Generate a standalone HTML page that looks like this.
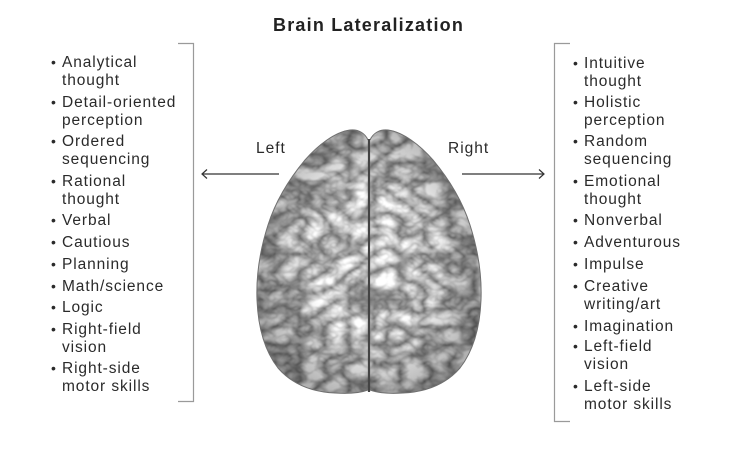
<!DOCTYPE html>
<html>
<head>
<meta charset="utf-8">
<style>
  html,body{margin:0;padding:0;background:#fff;}
  body{width:752px;height:450px;position:relative;overflow:hidden;font-family:"Liberation Sans",sans-serif;color:#262626;}
  .title{position:absolute;left:273px;top:13px;font-size:18px;font-weight:bold;letter-spacing:1.2px;color:#222;white-space:nowrap;line-height:24px;}
  .it{position:absolute;font-size:15.5px;letter-spacing:0.9px;line-height:17.6px;white-space:nowrap;color:#2a2a2a;}
  .it::before{content:"•";position:absolute;left:-11px;top:0;letter-spacing:0;font-size:14px;}
  .lab{position:absolute;font-size:15.5px;letter-spacing:1px;line-height:18px;white-space:nowrap;color:#2a2a2a;}
  svg{position:absolute;left:0;top:0;}
</style>
</head>
<body>
<svg width="752" height="450" viewBox="0 0 752 450">
  <defs>
    <filter id="tex" x="240" y="115" width="260" height="300" filterUnits="userSpaceOnUse" color-interpolation-filters="sRGB">
      <feTurbulence type="turbulence" baseFrequency="0.04 0.055" numOctaves="3" seed="7" result="t"/>
      <feColorMatrix in="t" type="matrix" values="1 0 0 0 0  1 0 0 0 0  1 0 0 0 0  0 0 0 0 1" result="g"/>
      <feComponentTransfer in="g" result="c">
        <feFuncR type="linear" slope="1.0" intercept="0.42"/>
        <feFuncG type="linear" slope="1.0" intercept="0.42"/>
        <feFuncB type="linear" slope="1.0" intercept="0.42"/>
      </feComponentTransfer>
      <feGaussianBlur in="c" stdDeviation="0.5"/>
    </filter>
    <clipPath id="brain">
      <path d="M368,140 C365,133 358,129 350,130 C335,132 318,145 305,160 C290,178 276,200 268,225 C260,250 256,275 257,300 C258,325 264,350 278,368 C292,384 312,392 335,393 C350,394 360,393 368,390 Z"/>
      <path d="M370,140 C373,133 380,129 388,130 C403,132 420,145 433,160 C448,178 462,200 470,225 C478,250 482,275 481,300 C480,325 474,350 460,368 C446,384 426,392 403,393 C388,394 378,393 370,390 Z"/>
    </clipPath>
    <radialGradient id="shade" cx="369" cy="262" r="140" gradientUnits="userSpaceOnUse" gradientTransform="translate(369 262) scale(0.85 1) translate(-369 -262)">
      <stop offset="0.5" stop-color="#000" stop-opacity="0"/>
      <stop offset="1" stop-color="#000" stop-opacity="0.3"/>
    </radialGradient>
  </defs>

  <!-- brackets -->
  <path d="M178,43.5 H193.5 V401.5 H178" fill="none" stroke="#9a9a9a" stroke-width="1.2"/>
  <path d="M570,43.5 H554.5 V421.5 H570" fill="none" stroke="#9a9a9a" stroke-width="1.2"/>

  <!-- arrows -->
  <g stroke="#333" stroke-width="1.2" fill="none">
    <line x1="202" y1="174" x2="279" y2="174"/>
    <path d="M207,169.5 L202,174 L207,178.5"/>
    <line x1="462" y1="174" x2="544" y2="174"/>
    <path d="M539,169.5 L544,174 L539,178.5"/>
  </g>

  <!-- brain -->
  <g clip-path="url(#brain)">
    <rect x="250" y="125" width="235" height="275" fill="#9c9c9c"/>
    <rect x="250" y="125" width="235" height="275" filter="url(#tex)"/>
    <rect x="250" y="125" width="235" height="275" fill="url(#shade)"/>
  </g>
  <g fill="none" stroke="#707070" stroke-width="1">
    <path d="M368,140 C365,133 358,129 350,130 C335,132 318,145 305,160 C290,178 276,200 268,225 C260,250 256,275 257,300 C258,325 264,350 278,368 C292,384 312,392 335,393 C350,394 360,393 368,390"/>
    <path d="M370,140 C373,133 380,129 388,130 C403,132 420,145 433,160 C448,178 462,200 470,225 C478,250 482,275 481,300 C480,325 474,350 460,368 C446,384 426,392 403,393 C388,394 378,393 370,390"/>
  </g>
  <line x1="369" y1="139" x2="369" y2="392" stroke="#444" stroke-width="2.2"/>
</svg>

<div class="title">Brain Lateralization</div>

<div class="lab" style="left:256px;top:140px;">Left</div>
<div class="lab" style="left:448px;top:140px;">Right</div>

<!-- left list -->
<div class="it" style="left:62px;top:54px;">Analytical<br>thought</div>
<div class="it" style="left:62px;top:94px;">Detail-oriented<br>perception</div>
<div class="it" style="left:62px;top:133px;">Ordered<br>sequencing</div>
<div class="it" style="left:62px;top:173px;">Rational<br>thought</div>
<div class="it" style="left:62px;top:212px;">Verbal</div>
<div class="it" style="left:62px;top:234px;">Cautious</div>
<div class="it" style="left:62px;top:256px;">Planning</div>
<div class="it" style="left:62px;top:278px;">Math/science</div>
<div class="it" style="left:62px;top:299px;">Logic</div>
<div class="it" style="left:62px;top:321px;">Right-field<br>vision</div>
<div class="it" style="left:62px;top:360px;">Right-side<br>motor skills</div>

<!-- right list -->
<div class="it" style="left:584px;top:55px;">Intuitive<br>thought</div>
<div class="it" style="left:584px;top:94px;">Holistic<br>perception</div>
<div class="it" style="left:584px;top:133px;">Random<br>sequencing</div>
<div class="it" style="left:584px;top:173px;">Emotional<br>thought</div>
<div class="it" style="left:584px;top:212px;">Nonverbal</div>
<div class="it" style="left:584px;top:234px;">Adventurous</div>
<div class="it" style="left:584px;top:256px;">Impulse</div>
<div class="it" style="left:584px;top:278px;">Creative<br>writing/art</div>
<div class="it" style="left:584px;top:318px;">Imagination</div>
<div class="it" style="left:584px;top:338px;">Left-field<br>vision</div>
<div class="it" style="left:584px;top:378px;">Left-side<br>motor skills</div>
</body>
</html>
